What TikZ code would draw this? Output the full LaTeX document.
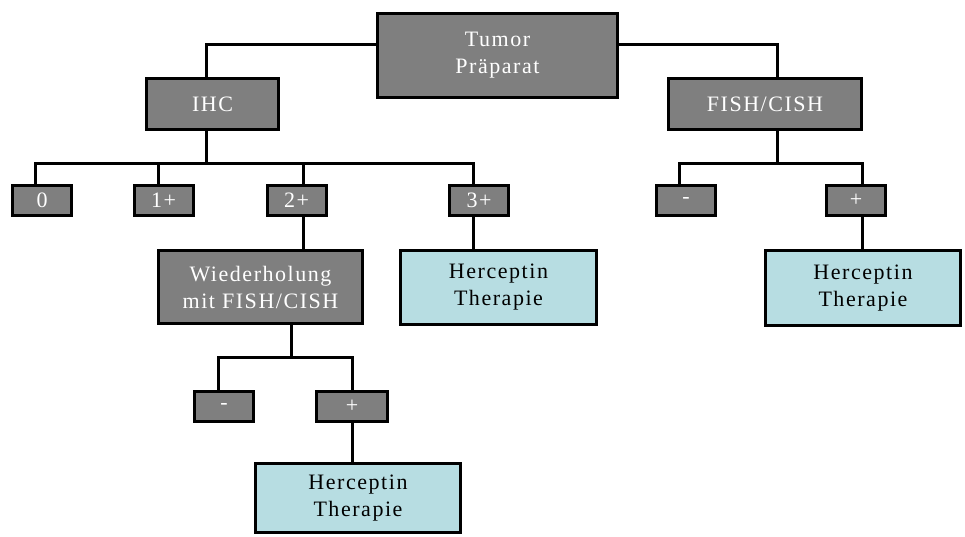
\documentclass[tikz,border=0pt]{standalone}
\usepackage{fontspec}
\setmainfont{Liberation Serif}[LetterSpace=7.0]
\usepackage{tikz}
\usetikzlibrary{positioning,calc}
\definecolor{boxGray}{HTML}{7F7F7F}
\definecolor{therCyan}{HTML}{B7DDE2}

\begin{document}
\begin{tikzpicture}[x=1pt,y=-1pt,line width=3pt,
  font=\fontsize{22}{27}\selectfont,
  gbox/.style={draw, fill=boxGray, text=white, align=center, inner sep=0pt},
  sbox/.style={gbox, minimum width=59pt, minimum height=30pt},
  ther/.style={draw, fill=therCyan, align=center, inner sep=0pt}]
\useasboundingbox (0,0) rectangle (965,536);
% root and the two tests
\node[gbox, minimum width=240pt, minimum height=84pt] (tumor) at (497.5,55.5) {Tumor\\Präparat};
\node[gbox, minimum width=132pt, minimum height=51pt] (ihc) at (212.5,104) {IHC};
\node[gbox, minimum width=193pt, minimum height=51pt] (fish) at (765,104) {FISH/CISH};
\draw ([yshift=11.5pt]tumor.west) -| ([xshift=-6.5pt]ihc.north);
\draw ([yshift=11.5pt]tumor.east) -| ([xshift=12pt]fish.north);
% IHC scores
\node[sbox] (c0) at (42,200.5) {0};
\node[sbox] (c1) at (163.5,200.5) {1+};
\node[sbox] (c2) at (296.5,200.5) {2+};
\node[sbox] (c3) at (479,200.5) {3+};
\coordinate (ihcbus) at (206,163);
\draw ([xshift=-6.5pt]ihc.south) -- (ihcbus);
\draw (ihcbus) -| ([xshift=-6.5pt]c0.north);
\draw (ihcbus) -| ([xshift=-5.5pt]c1.north);
\draw (ihcbus) -| ([xshift=6.5pt]c2.north);
\draw (ihcbus) -| ([xshift=-6pt]c3.north);
% 2+ and 3+ follow-up
\node[gbox, minimum width=204pt, minimum height=73pt] (wdh) at (260.5,287) {Wiederholung\\mit FISH/CISH};
\node[ther, minimum width=196pt, minimum height=74pt] (h3) at (498.5,287.5) {Herceptin\\Therapie};
\draw ([xshift=6.5pt]c2.south) -- ([xshift=6.5pt]c2.south |- wdh.north);
\draw ([xshift=-6pt]c3.south) -- ([xshift=-6pt]c3.south |- h3.north);
% repeat test result
\node[sbox] (wm) at (224,406) {-};
\node[sbox, minimum width=71pt] (wp) at (352,406) {+};
\node[ther, minimum width=205pt, minimum height=69pt] (hb) at (358,498) {Herceptin\\Therapie};
\coordinate (wbus) at (291,357);
\draw ([xshift=30.5pt]wdh.south) -- (wbus);
\draw (wbus) -| ([xshift=-6pt]wm.north);
\draw (wbus) -| (wp.north);
\draw (wp.south) -- (wp.south |- hb.north);
% FISH/CISH result
\node[sbox] (fm) at (686,200.5) {-};
\node[sbox] (fp) at (856,200.5) {+};
\node[ther, minimum width=195pt, minimum height=75pt] (hr) at (863,288) {Herceptin\\Therapie};
\coordinate (fbus) at (777,163);
\draw ([xshift=12pt]fish.south) -- (fbus);
\draw (fbus) -| ([xshift=-7pt]fm.north);
\draw (fbus) -| ([xshift=6pt]fp.north);
\draw ([xshift=6pt]fp.south) -- ([xshift=6pt]fp.south |- hr.north);
\end{tikzpicture}
\end{document}
